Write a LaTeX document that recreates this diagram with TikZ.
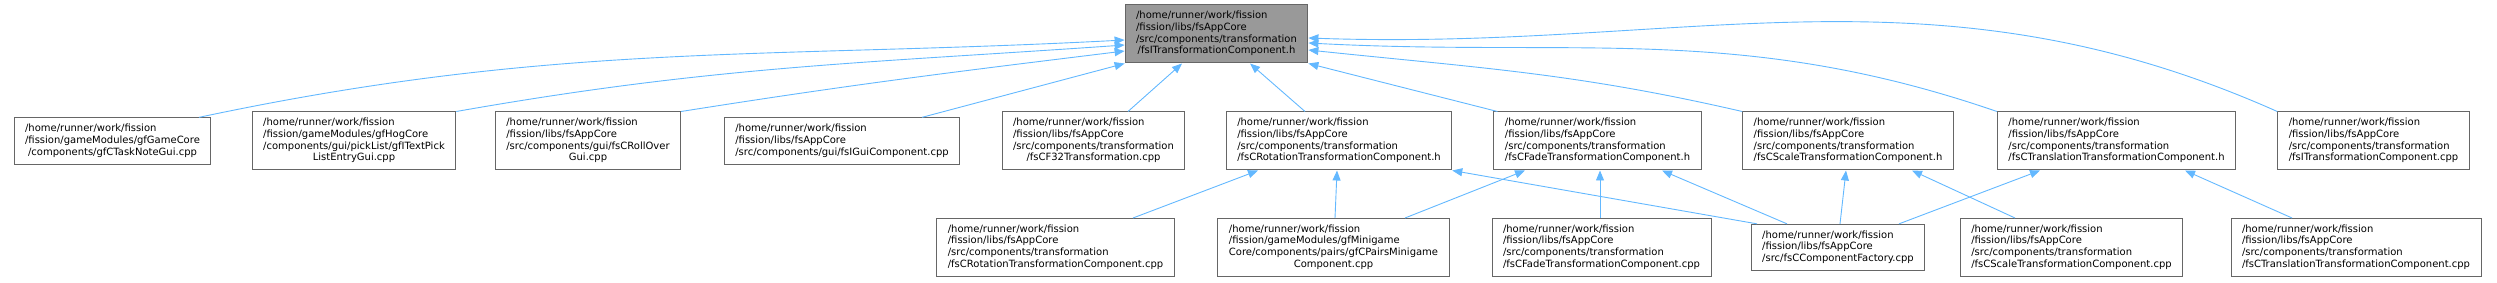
\documentclass[tikz,border=0pt]{standalone}
\usepackage{fontspec}
\setmainfont{DejaVu Sans}
\usetikzlibrary{arrows.meta}

\definecolor{edgeblue}{HTML}{63B8FF}
\definecolor{boxline}{HTML}{666666}
\definecolor{boxfill}{HTML}{999999}

% left-aligned lines, last line centred
\newcommand{\flines}[2]{\begin{tabular}{@{}l@{}}#1\\\multicolumn{1}{@{}c@{}}{#2}\end{tabular}}

\begin{document}
\begin{tikzpicture}[x=1pt, y=1pt, >={Triangle[length=10pt,width=8pt]},
    file/.style={draw=boxline, line width=1pt, fill=white, inner xsep=11pt, inner ysep=5.6pt,
      font=\fontsize{10}{11.7}\selectfont},
    dep/.style={->, draw=edgeblue, line width=0.9pt}]
        \useasboundingbox (0,0) rectangle (2497,283);

        \node[file, fill=boxfill] (TI) at (1216.5,249) {\flines{/home/runner/work/fission\\/fission/libs/fsAppCore\\/src/components/transformation}{/fsITransformationComponent.h}};

        \node[file] (TaskNote) at (112.5,142) {\flines{/home/runner/work/fission\\/fission/gameModules/gfGameCore}{/components/gfCTaskNoteGui.cpp}};
        \node[file] (TextPick) at (354,142) {\flines{/home/runner/work/fission\\/fission/gameModules/gfHogCore\\/components/gui/pickList/gfITextPick}{ListEntryGui.cpp}};
        \node[file] (RollOver) at (588,142) {\flines{/home/runner/work/fission\\/fission/libs/fsAppCore\\/src/components/gui/fsCRollOver}{Gui.cpp}};
        \node[file] (GuiComp) at (842,142) {\flines{/home/runner/work/fission\\/fission/libs/fsAppCore}{/src/components/gui/fsIGuiComponent.cpp}};
        \node[file] (F32) at (1093.5,142) {\flines{/home/runner/work/fission\\/fission/libs/fsAppCore\\/src/components/transformation}{/fsCF32Transformation.cpp}};
        \node[file] (RotH) at (1339,142) {\flines{/home/runner/work/fission\\/fission/libs/fsAppCore\\/src/components/transformation}{/fsCRotationTransformationComponent.h}};
        \node[file] (FadeH) at (1597.5,142) {\flines{/home/runner/work/fission\\/fission/libs/fsAppCore\\/src/components/transformation}{/fsCFadeTransformationComponent.h}};
        \node[file] (ScaleH) at (1848,142) {\flines{/home/runner/work/fission\\/fission/libs/fsAppCore\\/src/components/transformation}{/fsCScaleTransformationComponent.h}};
        \node[file] (TransH) at (2116.5,142) {\flines{/home/runner/work/fission\\/fission/libs/fsAppCore\\/src/components/transformation}{/fsCTranslationTransformationComponent.h}};
        \node[file] (TICpp) at (2373.5,142) {\flines{/home/runner/work/fission\\/fission/libs/fsAppCore\\/src/components/transformation}{/fsITransformationComponent.cpp}};

        \node[file] (RotCpp) at (1055.5,35.5) {\flines{/home/runner/work/fission\\/fission/libs/fsAppCore\\/src/components/transformation}{/fsCRotationTransformationComponent.cpp}};
        \node[file] (Pairs) at (1333.5,35.5) {\flines{/home/runner/work/fission\\/fission/gameModules/gfMinigame\\Core/components/pairs/gfCPairsMinigame}{Component.cpp}};
        \node[file] (FadeCpp) at (1601.5,35.5) {\flines{/home/runner/work/fission\\/fission/libs/fsAppCore\\/src/components/transformation}{/fsCFadeTransformationComponent.cpp}};
        \node[file] (Factory) at (1838,35.5) {\flines{/home/runner/work/fission\\/fission/libs/fsAppCore}{/src/fsCComponentFactory.cpp}};
        \node[file] (ScaleCpp) at (2071.5,35.5) {\flines{/home/runner/work/fission\\/fission/libs/fsAppCore\\/src/components/transformation}{/fsCScaleTransformationComponent.cpp}};
        \node[file] (TransCpp) at (2356,35.5) {\flines{/home/runner/work/fission\\/fission/libs/fsAppCore\\/src/components/transformation}{/fsCTranslationTransformationComponent.cpp}};

        % includes of the interface header
        \draw[dep] ([xshift=86.5pt]TaskNote.north) to[out=12,in=183] ([yshift=-6pt]TI.west);
        \draw[dep] (TextPick.north east) to[out=10,in=184] ([yshift=-11pt]TI.west);
        \draw[dep] (RollOver.north east) to[out=9,in=187] ([yshift=-17pt]TI.west);
        \draw[dep] ([xshift=80pt]GuiComp.north) -- (TI.south west);
        \draw[dep] ([xshift=34.5pt]F32.north) -- ([xshift=-34.5pt]TI.south);
        \draw[dep] ([xshift=-34pt]RotH.north) -- ([xshift=33.5pt]TI.south);
        \draw[dep] ([xshift=4pt]FadeH.north west) -- (TI.south east);
        \draw[dep] (ScaleH.north west) to[out=167,in=-6] ([yshift=-16pt]TI.east);
        \draw[dep] (TransH.north west) to[out=161,in=-3] ([yshift=-9pt]TI.east);
        \draw[dep] (TICpp.north west) to[out=156,in=-2] ([yshift=-4pt]TI.east);

        % includes of the component headers
        \draw[dep] ([xshift=77.5pt]RotCpp.north) -- ([xshift=-81pt]RotH.south);
        \draw[dep] ([xshift=1.5pt]Pairs.north) -- ([xshift=-2pt]RotH.south);
        \draw[dep] ([xshift=71.5pt]Pairs.north) -- ([xshift=-72.5pt]FadeH.south);
        \draw[dep] ([xshift=-1.5pt]FadeCpp.north) -- ([xshift=2.5pt]FadeH.south);
        \draw[dep] ([xshift=-81pt]Factory.north) -- (RotH.south east);
        \draw[dep] ([xshift=-51pt]Factory.north) -- ([xshift=64.5pt]FadeH.south);
        \draw[dep] ([xshift=2pt]Factory.north) -- ([xshift=-2pt]ScaleH.south);
        \draw[dep] ([xshift=61pt]Factory.north) -- ([xshift=-76.5pt]TransH.south);
        \draw[dep] ([xshift=-56.5pt]ScaleCpp.north) -- ([xshift=64pt]ScaleH.south);
        \draw[dep] ([xshift=-64pt]TransCpp.north) -- ([xshift=68.5pt]TransH.south);
    \end{tikzpicture}
\end{document}
